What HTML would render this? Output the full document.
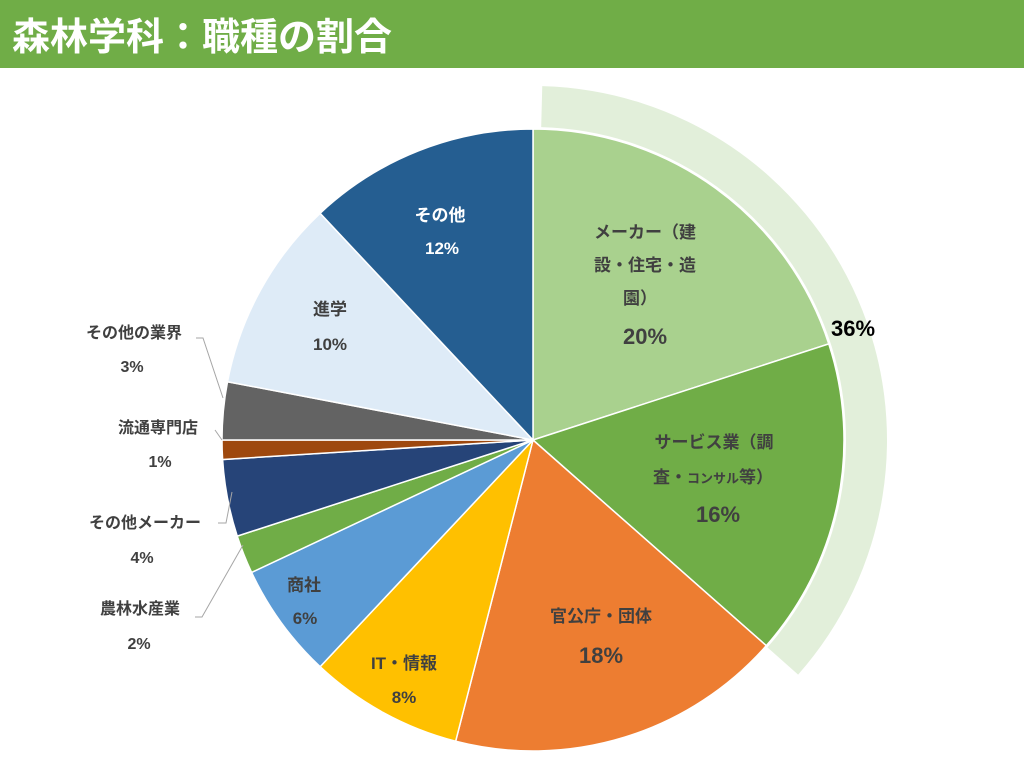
<!DOCTYPE html>
<html><head><meta charset="utf-8"><style>
html,body{margin:0;padding:0;background:#fff;width:1024px;height:768px;overflow:hidden}
text{font-family:"Liberation Sans","Noto Sans CJK JP",sans-serif;font-weight:bold}
</style></head><body>
<svg width="1024" height="768" viewBox="0 0 1024 768" xmlns="http://www.w3.org/2000/svg">
<rect x="0" y="0" width="1024" height="68" fill="#70ad47"/>
<text x="12" y="50" font-size="38" fill="#fff">森林学科：職種の割合</text>
<g id="pie"></g>
<script>
var cx=533,cy=440,r=311;
var data=[[20,'#a9d18e'],[16.5,'#70ad47'],[17.5,'#ed7d31'],[8,'#ffc000'],[6,'#5b9bd5'],[2,'#70ad47'],[4,'#264478'],[1,'#9e480e'],[3,'#636363'],[10,'#deebf7'],[12,'#255e91']];
var ns='http://www.w3.org/2000/svg',g=document.getElementById('pie');
function pt(a,rr){a=a*Math.PI/180;return [cx+rr*Math.sin(a),cy-rr*Math.cos(a)];}
(function(){var a0=1.5,a1=131.5,ri=313,ro=354;
var p0=pt(a0,ro),p1=pt(a1,ro),p2=pt(a1,ri),p3=pt(a0,ri);
var p=document.createElementNS(ns,'path');
p.setAttribute('d','M'+p0+' A'+ro+' '+ro+' 0 0 1 '+p1+' L'+p2+' A'+ri+' '+ri+' 0 0 0 '+p3+'Z');
p.setAttribute('fill','#e2efda');g.appendChild(p);})();
var a=0;
data.forEach(function(d){var a1=a+d[0]*3.6;var p0=pt(a,r),p1=pt(a1,r);
var p=document.createElementNS(ns,'path');
p.setAttribute('d','M'+cx+' '+cy+' L'+p0+' A'+r+' '+r+' 0 '+(a1-a>180?1:0)+' 1 '+p1+'Z');
p.setAttribute('fill',d[1]);p.setAttribute('stroke','#fff');p.setAttribute('stroke-width','1.5');
g.appendChild(p);a=a1;});
</script>
<g fill="none" stroke="#a6a6a6" stroke-width="1">
<polyline points="196,338 203,338 223,398"/>
<polyline points="215,430 222,440"/>
<polyline points="218,523 226,523 232,492"/>
<polyline points="195,617 202,617 243,545"/>
</g>
<g font-size="16" text-anchor="middle" fill="#404040">
<text x="134" y="338">その他の業界</text><text x="132" y="372">3%</text>
<text x="158" y="433">流通専門店</text><text x="160" y="467">1%</text>
<text x="145" y="528">その他メーカー</text><text x="142" y="563">4%</text>
<text x="140" y="614">農林水産業</text><text x="139" y="649">2%</text>
</g>
<g font-size="17" text-anchor="middle" fill="#404040">
<text x="645" y="238">メーカー（建</text>
<text x="645" y="271">設・住宅・造</text>
<text x="640" y="304">園）</text>
<text x="645" y="344" font-size="22">20%</text>
<text x="714" y="448">サービス業（調</text>
<text x="713" y="483">査・<tspan font-size="13">コンサル</tspan>等）</text>
<text x="718" y="522" font-size="22">16%</text>
<text x="601" y="622">官公庁・団体</text>
<text x="601" y="663" font-size="22">18%</text>
<text x="404" y="669">IT・情報</text><text x="404" y="703">8%</text>
<text x="304" y="591">商社</text><text x="305" y="624">6%</text>
<text x="330" y="315">進学</text><text x="330" y="350">10%</text>
</g>
<g font-size="17" text-anchor="middle" fill="#fff">
<text x="440" y="221">その他</text><text x="442" y="254">12%</text>
</g>
<text x="853" y="336" font-size="22" text-anchor="middle" fill="#000">36%</text>
</svg>
</body></html>
